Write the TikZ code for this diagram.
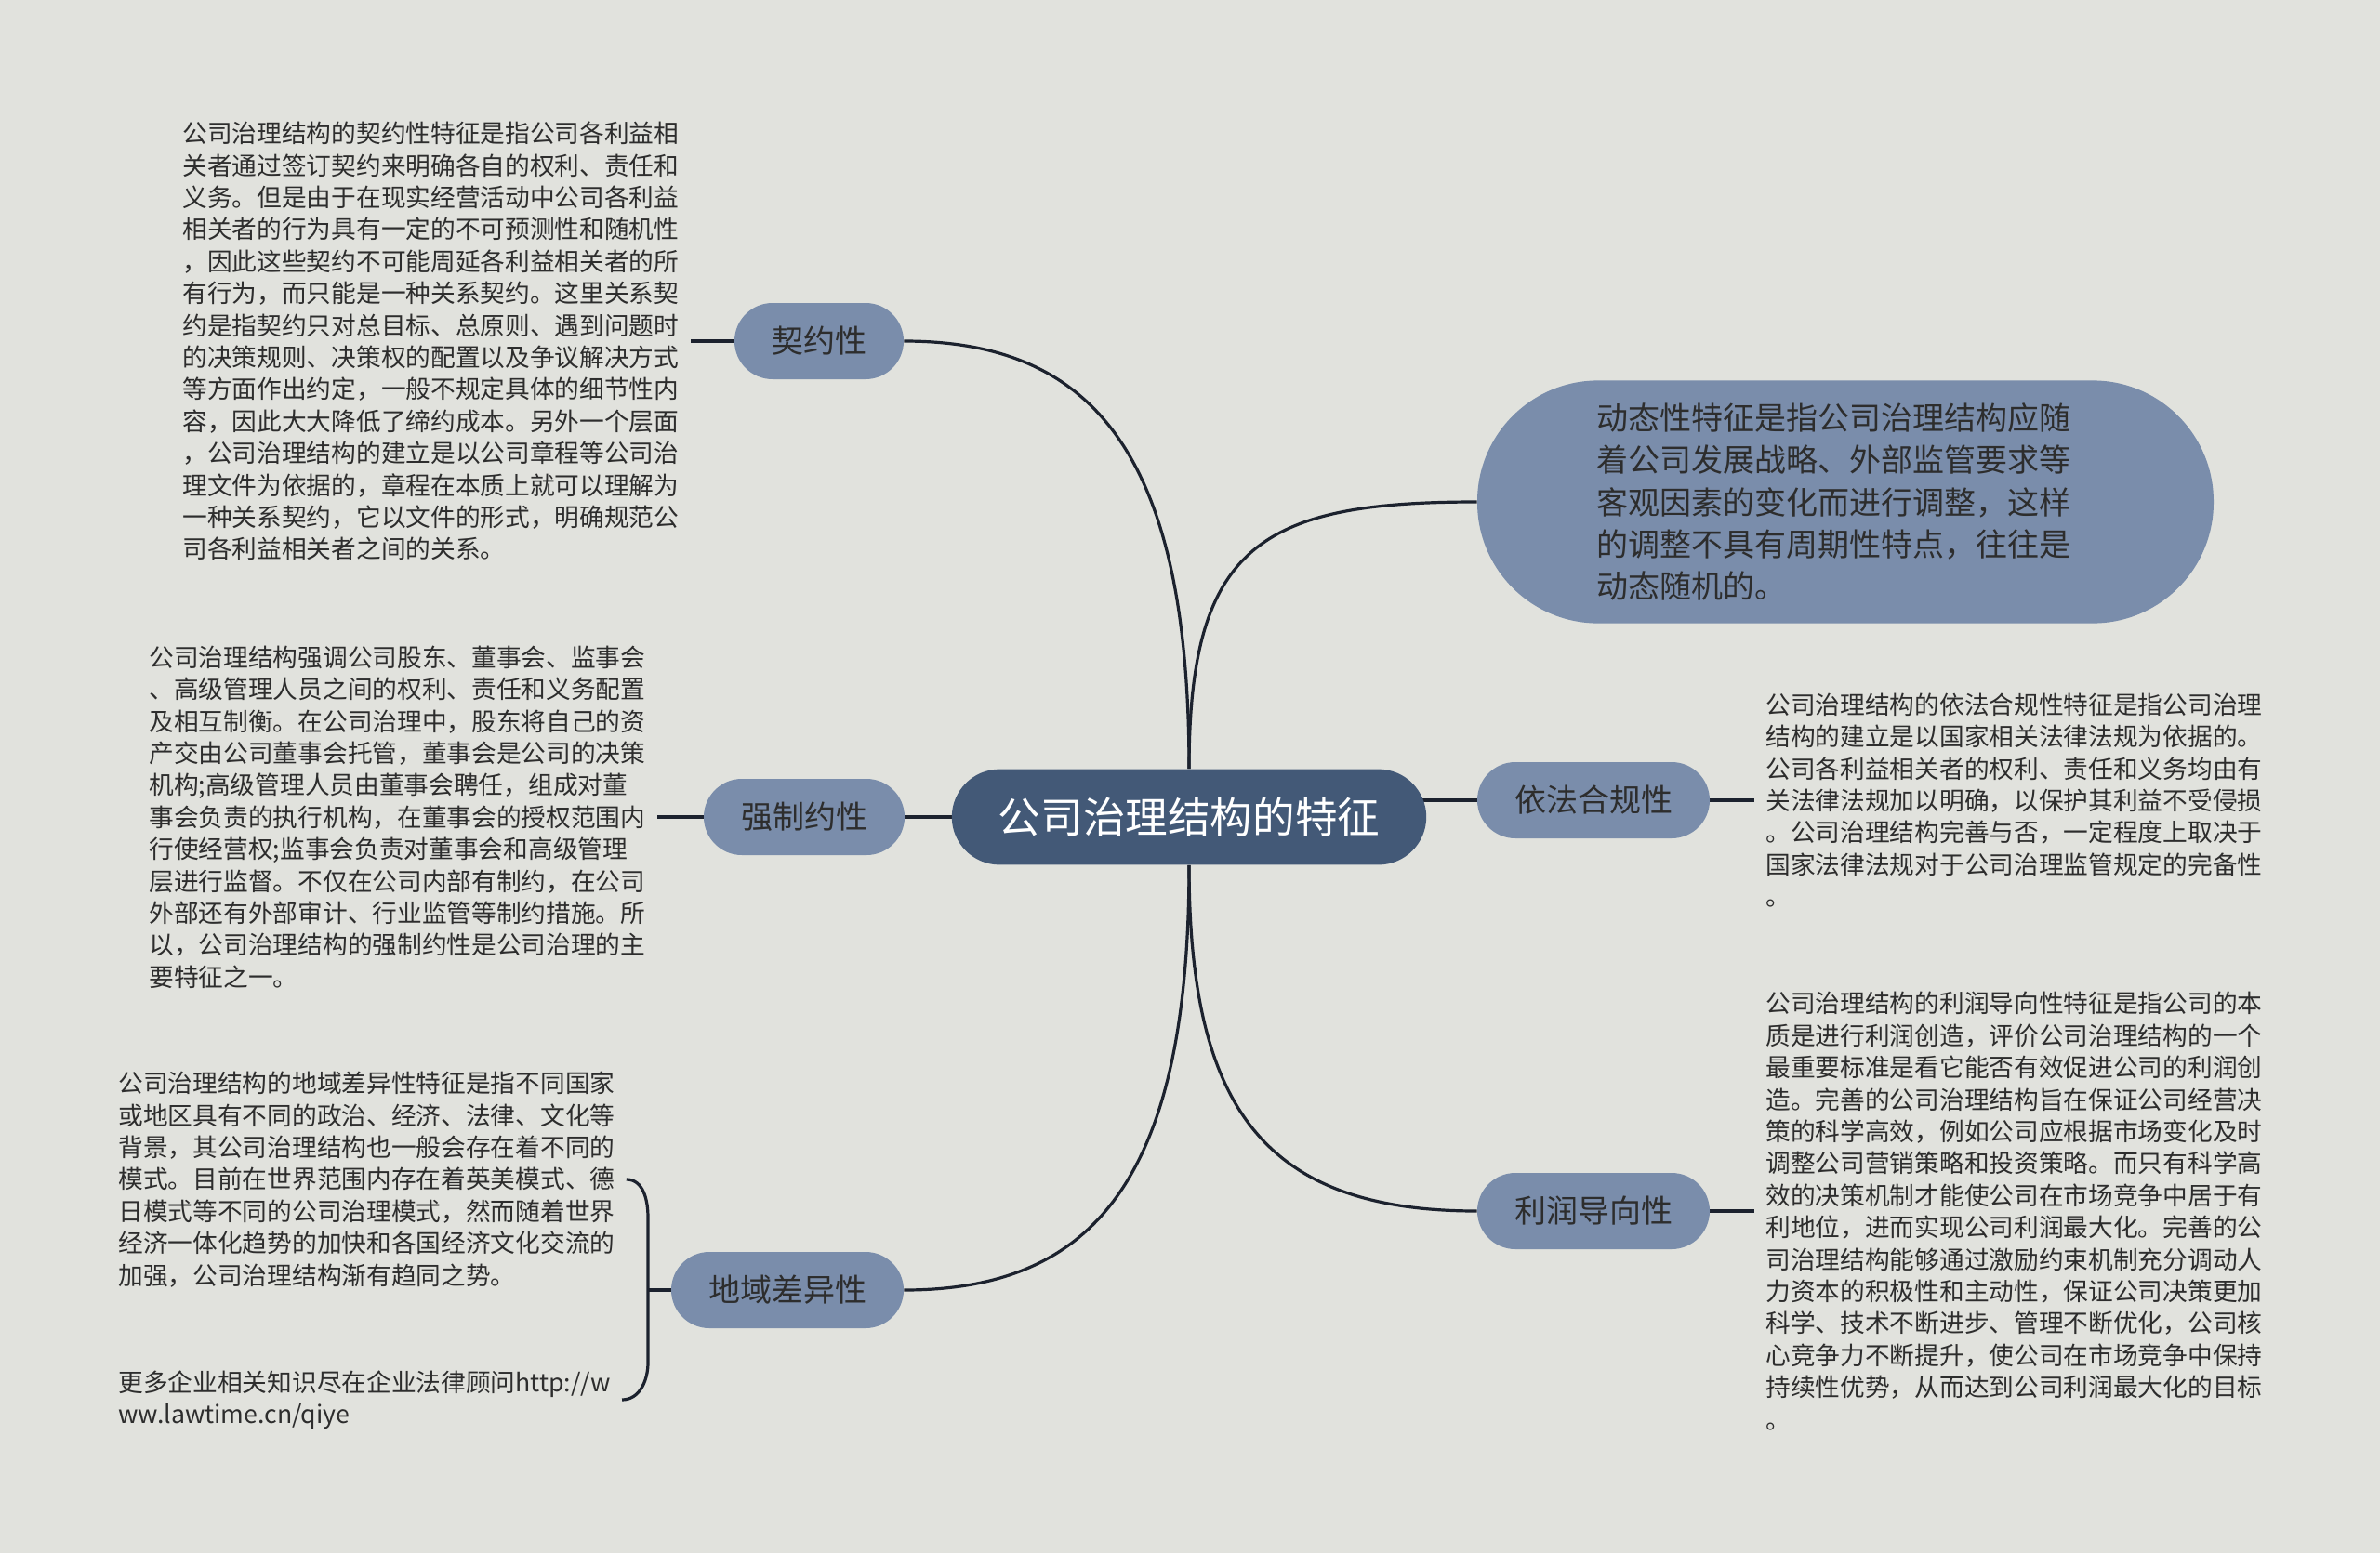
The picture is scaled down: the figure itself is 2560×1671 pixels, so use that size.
\documentclass[tikz,border=0pt]{standalone}
\usepackage{fontspec}
\setmainfont{Noto Sans CJK SC}
\usepackage{tikz}
\usetikzlibrary{backgrounds}
\definecolor{bgc}{RGB}{225,226,221}
\definecolor{rootc}{RGB}{67,89,119}
\definecolor{brc}{RGB}{122,141,171}
\definecolor{linec}{RGB}{28,34,46}
\definecolor{txtc}{RGB}{45,45,45}

\begin{document}
\begin{tikzpicture}[x=0.5pt,y=-0.5pt,
	rootbox/.style={fill=rootc,text=white,rounded corners=25.7pt,minimum height=51.4pt,inner xsep=25pt,font=\fontsize{22.8}{26}\selectfont},
	branch/.style={fill=brc,text=txtc,rounded corners=20.5pt,minimum height=41pt,inner xsep=20pt,font=\fontsize{17}{20}\selectfont},
	leaf/.style={anchor=west,align=left,text=txtc,inner xsep=6pt,inner ysep=0pt,font=\fontsize{13.35}{17.2}\selectfont},
	link/.style={draw=linec,line width=1.6pt}]
		\useasboundingbox (0,0) rectangle (2560,1671);
		\node[rootbox] (root) at (1279,879) {公司治理结构的特征};
		\node[branch] (q) at (881,367) {契约性};
		\node[branch] (qz) at (865,879) {强制约性};
		\node[branch] (dy) at (847,1388) {地域差异性};
		\node[branch] (yf) at (1714,861) {依法合规性};
		\node[branch] (lr) at (1714,1303) {利润导向性};
		\node[branch,minimum width=396pt,minimum height=130.6pt,rounded corners=65pt,align=left,font=\fontsize{17}{22.6}\selectfont] (dt) at (1985,540) {动态性特征是指公司治理结构应随\hspace*{13pt}\\
着公司发展战略、外部监管要求等\\
客观因素的变化而进行调整，这样\\
的调整不具有周期性特点，往往是\\
动态随机的。};
		\node[leaf] (qt) at (184,367) {公司治理结构的契约性特征是指公司各利益相\\
关者通过签订契约来明确各自的权利、责任和\\
义务。但是由于在现实经营活动中公司各利益\\
相关者的行为具有一定的不可预测性和随机性\\
，因此这些契约不可能周延各利益相关者的所\\
有行为，而只能是一种关系契约。这里关系契\\
约是指契约只对总目标、总原则、遇到问题时\\
的决策规则、决策权的配置以及争议解决方式\\
等方面作出约定，一般不规定具体的细节性内\\
容，因此大大降低了缔约成本。另外一个层面\\
，公司治理结构的建立是以公司章程等公司治\\
理文件为依据的，章程在本质上就可以理解为\\
一种关系契约，它以文件的形式，明确规范公\\
司各利益相关者之间的关系。};
		\node[leaf] (qzt) at (148,879) {公司治理结构强调公司股东、董事会、监事会\\
、高级管理人员之间的权利、责任和义务配置\\
及相互制衡。在公司治理中，股东将自己的资\\
产交由公司董事会托管，董事会是公司的决策\\
机构;高级管理人员由董事会聘任，组成对董\\
事会负责的执行机构，在董事会的授权范围内\\
行使经营权;监事会负责对董事会和高级管理\\
层进行监督。不仅在公司内部有制约，在公司\\
外部还有外部审计、行业监管等制约措施。所\\
以，公司治理结构的强制约性是公司治理的主\\
要特征之一。};
		\node[leaf] (dyt) at (115,1269) {公司治理结构的地域差异性特征是指不同国家\\
或地区具有不同的政治、经济、法律、文化等\\
背景，其公司治理结构也一般会存在着不同的\\
模式。目前在世界范围内存在着英美模式、德\\
日模式等不同的公司治理模式，然而随着世界\\
经济一体化趋势的加快和各国经济文化交流的\\
加强，公司治理结构渐有趋同之势。};
		\node[leaf] (url) at (115,1506) {更多企业相关知识尽在企业法律顾问http://w\\
ww.lawtime.cn/qiye};
		\node[leaf] (yft) at (1887,861) {公司治理结构的依法合规性特征是指公司治理\\
结构的建立是以国家相关法律法规为依据的。\\
公司各利益相关者的权利、责任和义务均由有\\
关法律法规加以明确，以保护其利益不受侵损\\
。公司治理结构完善与否，一定程度上取决于\\
国家法律法规对于公司治理监管规定的完备性\\
。};
		\node[leaf] (lrt) at (1887,1303) {公司治理结构的利润导向性特征是指公司的本\\
质是进行利润创造，评价公司治理结构的一个\\
最重要标准是看它能否有效促进公司的利润创\\
造。完善的公司治理结构旨在保证公司经营决\\
策的科学高效，例如公司应根据市场变化及时\\
调整公司营销策略和投资策略。而只有科学高\\
效的决策机制才能使公司在市场竞争中居于有\\
利地位，进而实现公司利润最大化。完善的公\\
司治理结构能够通过激励约束机制充分调动人\\
力资本的积极性和主动性，保证公司决策更加\\
科学、技术不断进步、管理不断优化，公司核\\
心竞争力不断提升，使公司在市场竞争中保持\\
持续性优势，从而达到公司利润最大化的目标\\
。};
		\coordinate (bm) at (697,1388);
		\begin{pgfonlayer}{background}
			\fill[bgc] (0,0) rectangle (2560,1671);
			\draw[link] (root.north) .. controls +(0,-338) and +(204,0) .. (q.east);
			\draw[link] (root.north) .. controls +(0,-240) and +(-233,0) .. (dt.west);
			\draw[link] (root.south) .. controls +(0,338) and +(204,0) .. (dy.east);
			\draw[link] (root.south) .. controls +(0,260) and +(-230,0) .. (lr.west);
			\draw[link] (qz.east) -- (root.center);
			\draw[link] (yf.west) -- (yf.west -| root.center);
			\draw[link] (q.west) -- (qt.east);
			\draw[link] (qz.west) -- (qzt.east);
			\draw[link] (yf.east) -- (yft.west);
			\draw[link] (lr.east) -- (lrt.west);
			\draw[link] (dy.west) -- (bm);
			\draw[link] (dyt.east) to[out=0,in=90] (bm |- 0,1310) -- (bm |- 0,1466) to[out=-90,in=0] (url.east);
		\end{pgfonlayer}
	\end{tikzpicture}
\end{document}
